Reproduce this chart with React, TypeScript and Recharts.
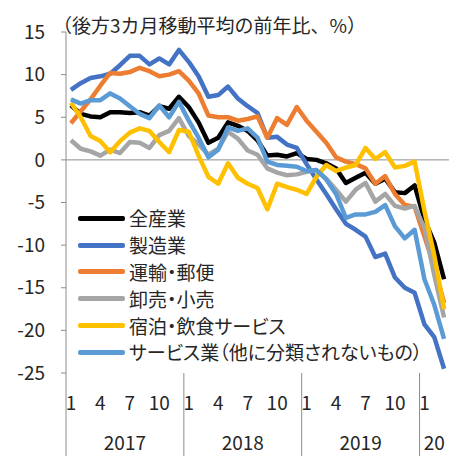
import { LineChart, Line, XAxis, YAxis, ReferenceLine } from 'recharts';

const FONT = '"Noto Sans CJK JP", "Noto Sans", sans-serif';
const AXIS_GRAY = '#8c8c8c';
const TEXT = '#262626';

// Jan 2017 .. Mar 2020, one point per month
const YEARS = ['2017', '2018', '2019', '20'];
const MONTHS_PER_YEAR = [12, 12, 12, 3];
const MONTH_LABELS = [1, 4, 7, 10];

const TITLE = '（後方3カ月移動平均の前年比、%）';
const Y_TICKS = [-25, -20, -15, -10, -5, 0, 5, 10, 15];

const ALL_INDUSTRIES = [
  6.4, 5.4, 5.1, 5.0, 5.6, 5.6, 5.5, 5.6, 5.2, 6.3, 6.0, 7.4,
  6.2, 4.4, 2.0, 2.6, 4.4, 4.0, 3.4, 2.3, 0.5, 0.6, 0.4, 0.8,
  0.1, 0.0, -0.4, -1.0, -2.7, -2.1, -1.5, -2.8, -2.2, -3.8, -3.9, -3.0,
  -7.0, -9.7, -14.0,
];
const MANUFACTURING = [
  8.2, 9.0, 9.6, 9.8, 10.1, 11.1, 12.2, 12.2, 11.2, 11.9, 11.2, 12.9,
  11.5, 9.8, 7.4, 7.6, 8.6, 7.2, 6.3, 5.5, 2.6, 2.7, 1.8, 1.4,
  -0.5, -2.3, -4.0, -5.8, -7.5, -8.2, -9.0, -11.4, -11.0, -13.8, -15.0, -15.6,
  -19.3, -20.8, -24.5,
];
const TRANSPORT = [
  4.3, 5.7, 7.1, 8.7, 10.2, 10.1, 10.3, 10.8, 10.4, 9.8, 10.0, 10.4,
  9.3, 7.8, 5.2, 5.0, 5.0, 4.6, 4.8, 5.1, 2.6, 4.9, 4.1, 6.2,
  4.6, 3.3, 2.0, 0.3, -0.2, -0.5, -1.0, -2.8, -1.9, -4.0, -5.3, -5.5,
  -9.0, -12.5, -16.8,
];
const WHOLESALE = [
  2.3, 1.3, 1.0, 0.5, 1.2, 0.8, 2.1, 2.0, 1.4, 2.9, 3.4, 4.9,
  2.8, 1.8, 0.6, 1.3, 3.3, 2.5, 1.1, 0.6, -1.0, -1.5, -1.8, -1.7,
  -1.4, -1.2, -2.2, -3.5, -4.9, -3.5, -2.7, -4.9, -4.0, -5.4, -5.7, -5.4,
  -8.0, -13.5, -18.5,
];
const FOOD = [
  6.7, 5.0, 2.8, 2.2, 0.9, 2.2, 3.2, 3.7, 3.4, 2.1, 0.9, 3.5,
  3.3, 0.5, -2.0, -2.8, -0.4, -2.1, -2.8, -3.3, -5.8, -2.8, -3.2, -3.5,
  -4.0, -2.0, -0.6, -1.3, -0.9, -0.6, 1.4, 0.1, 0.9, -0.9, -0.7, -0.2,
  -6.0, -11.2, -17.5,
];
const SERVICES = [
  7.1, 6.6, 7.0, 7.0, 7.8, 7.2, 6.3, 5.4, 4.9, 6.4, 5.0, 6.8,
  4.6, 2.6, 0.3, 1.2, 3.8, 3.4, 3.7, 2.6, -0.2, -0.6, -0.7, -0.8,
  -1.3, -1.2, -2.3, -4.0, -6.8, -6.4, -6.4, -6.1, -5.3, -7.8, -9.2, -8.2,
  -14.0, -17.0, -21.0,
];

const SERIES = [
  { key: 'all', name: '全産業', color: '#000000', values: ALL_INDUSTRIES },
  { key: 'mfg', name: '製造業', color: '#4472C4', values: MANUFACTURING },
  { key: 'trans', name: '運輸・郵便', color: '#ED7D31', values: TRANSPORT },
  { key: 'whole', name: '卸売・小売', color: '#A5A5A5', values: WHOLESALE },
  { key: 'food', name: '宿泊・飲食サービス', color: '#FFC000', values: FOOD },
  { key: 'svc', name: 'サービス業（他に分類されないもの）', color: '#5B9BD5', values: SERVICES },
];

const data = ALL_INDUSTRIES.map((_, i) => {
  const row: Record<string, number> = { x: i + 0.5 };
  SERIES.forEach((s) => (row[s.key] = s.values[i]));
  return row;
});
const TOTAL = data.length;

// tick kinds on the single numeric x axis: month label, year separator, year label
const tickInfo = new Map<number, { kind: string; text: string }>();
let start = 0;
YEARS.forEach((yr, k) => {
  const n = MONTHS_PER_YEAR[k];
  tickInfo.set(start, { kind: 'sep', text: '' });
  MONTH_LABELS.filter((m) => m <= n).forEach((m) =>
    tickInfo.set(start + m - 0.5, { kind: 'month', text: String(m) })
  );
  tickInfo.set(start + n / 2, { kind: 'year', text: yr });
  start += n;
});
const X_TICKS = Array.from(tickInfo.keys());

function XTick(props: any) {
  const { x, y, payload } = props;
  const info = tickInfo.get(payload.value);
  if (!info) return null;
  if (info.kind === 'sep') {
    return <line x1={x} x2={x} y1={y} y2={y + 83} stroke={AXIS_GRAY} strokeWidth={1} />;
  }
  return (
    <text
      x={x}
      y={info.kind === 'month' ? y + 32 : y + 72}
      dominantBaseline="middle"
      textAnchor="middle"
      fontSize={19}
      fontFamily={FONT}
      fill={TEXT}
    >
      {info.text}
    </text>
  );
}

export default function App() {
  return (
    <div style={{ position: 'absolute', left: 0, top: 0, width: 450, height: 456, background: '#fff', fontFamily: FONT }}>
      <LineChart width={450} height={456} data={data} margin={{ top: 32, right: 1, bottom: 0, left: 0 }}>
        <XAxis
          dataKey="x"
          type="number"
          domain={[0, TOTAL]}
          ticks={X_TICKS}
          interval={0}
          tick={<XTick />}
          tickLine={false}
          axisLine={false}
          tickSize={0}
          tickMargin={0}
          height={83}
        />
        <YAxis
          domain={[-25, 15]}
          ticks={Y_TICKS}
          interval={0}
          width={66}
          tickSize={5}
          tickMargin={16}
          axisLine={{ stroke: AXIS_GRAY }}
          tickLine={{ stroke: AXIS_GRAY }}
          tick={{ fontSize: 19, fill: TEXT, fontFamily: FONT }}
        />
        <ReferenceLine y={0} stroke={AXIS_GRAY} strokeWidth={1} />
        {SERIES.map((s) => (
          <Line
            key={s.key}
            dataKey={s.key}
            type="linear"
            stroke={s.color}
            strokeWidth={4.5}
            strokeLinejoin="round"
            dot={false}
            isAnimationActive={false}
          />
        ))}
      </LineChart>
      <div
        style={{
          position: 'absolute',
          left: 53,
          top: 14,
          fontSize: 19,
          lineHeight: '22px',
          color: TEXT,
          whiteSpace: 'nowrap',
        }}
      >
        {TITLE}
      </div>
      <div style={{ position: 'absolute', left: 78, top: 205 }}>
        {SERIES.map((s) => (
          <div key={s.key} style={{ display: 'flex', alignItems: 'center', height: 26.8 }}>
            <div style={{ width: 47, height: 5, background: s.color, borderRadius: 2, marginRight: 4 }} />
            <span
              style={{
                fontSize: 19,
                lineHeight: '22px',
                color: TEXT,
                whiteSpace: 'nowrap',
                fontFeatureSettings: '"palt"',
              }}
            >
              {s.name}
            </span>
          </div>
        ))}
      </div>
    </div>
  );
}
